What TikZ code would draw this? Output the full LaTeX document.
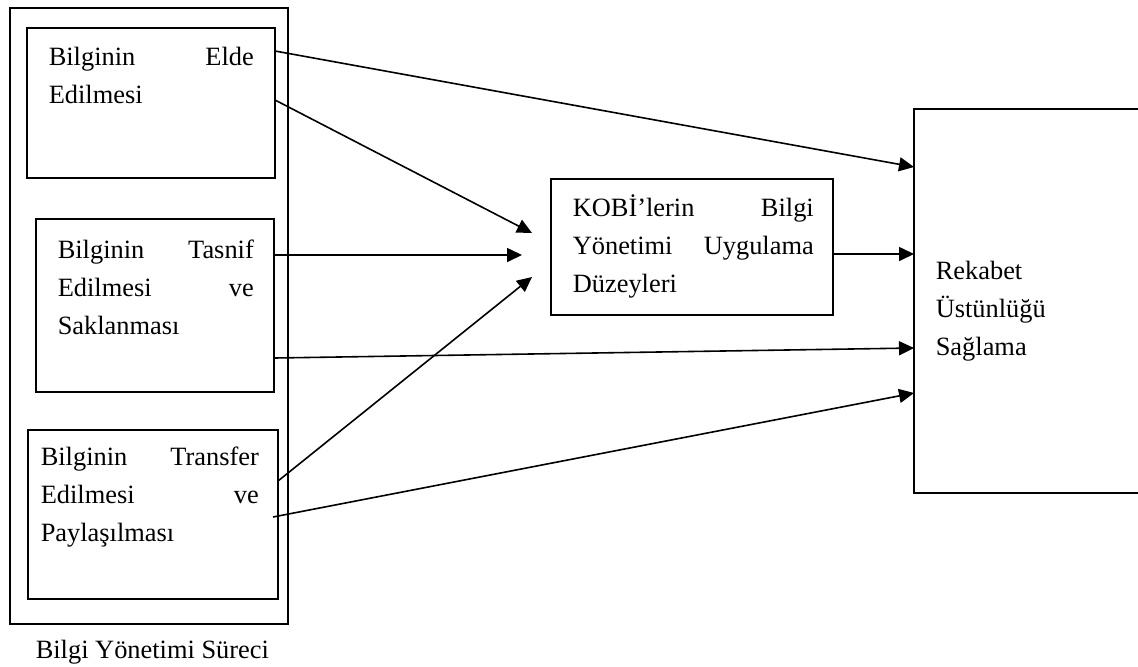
\documentclass[tikz,border=0pt]{standalone}
\usepackage{fontspec}
\setmainfont{Liberation Serif}
\usetikzlibrary{arrows.meta}

\begin{document}
\begin{tikzpicture}[
    x=0.5pt,
    y=-0.5pt,
    line width=0.8pt,
    box/.style={
      draw,
      rectangle,
      inner sep=0pt
    },
    txt/.style={
      anchor=base west,
      inner sep=0pt,
      align=left,
      font=\fontsize{13.2}{19}\selectfont
    },
    arr/.style={
      -{Triangle[length=7.5pt,width=7pt]}
    }
  ]
    \useasboundingbox (0, 0) rectangle (1138, 666);

    \node[box, minimum width=139pt, minimum height=308pt] (surec) at (149, 316) {};
    \node[box, minimum width=124pt, minimum height=75pt] (elde) at (151, 103) {};
    \node[box, minimum width=119pt, minimum height=86.5pt] (tasnif) at (155, 305.5) {};
    \node[box, minimum width=125pt, minimum height=84.5pt] (transfer) at (153, 514.5) {};
    \node[box, minimum width=141pt, minimum height=68pt] (kobi) at (692, 247) {};
    \node[box, minimum width=113pt, minimum height=192pt] (rekabet) at (1027, 301) {};

    \node[txt, text width=102.5pt] (elde_txt) at (48, 65) {Bilginin\hfill Elde\\Edilmesi};
    \node[txt, text width=98pt] (tasnif_txt) at (57, 258) {Bilginin\hfill Tasnif\\Edilmesi\hfill ve\\Saklanması};
    \node[txt, text width=109pt] (transfer_txt) at (40, 465) {Bilginin\hfill Transfer\\Edilmesi\hfill ve\\Paylaşılması};
    \node[txt, text width=120.5pt] (kobi_txt) at (572, 216) {KOBİ’lerin\hfill Bilgi\\Yönetimi\hfill Uygulama\\Düzeyleri};
    \node[txt] (rekabet_txt) at (935, 355) {Rekabet\\Üstünlüğü\\Sağlama};
    \node[txt] (surec_txt) at (35, 658) {Bilgi Yönetimi Süreci};

    \coordinate (elde_o1) at (275, 51);
    \coordinate (elde_o2) at (275, 100);
    \coordinate (tasnif_o1) at (274, 255);
    \coordinate (tasnif_o2) at (274, 358);
    \coordinate (transfer_o1) at (278, 481);
    \coordinate (transfer_o2) at (273, 517);
    \coordinate (kobi_i1) at (532, 233);
    \coordinate (kobi_i2) at (522, 255);
    \coordinate (kobi_i3) at (532, 277);
    \coordinate (kobi_o) at (833, 254);
    \coordinate (rek_i1) at (914, 167);
    \coordinate (rek_i2) at (914, 254);
    \coordinate (rek_i3) at (914, 348);
    \coordinate (rek_i4) at (914, 393);

    \draw[arr] (elde_o1) to (rek_i1);
    \draw[arr] (elde_o2) to (kobi_i1);
    \draw[arr] (tasnif_o1) to (kobi_i2);
    \draw[arr] (tasnif_o2) to (rek_i3);
    \draw[arr] (transfer_o1) to (kobi_i3);
    \draw[arr] (transfer_o2) to (rek_i4);
    \draw[arr] (kobi_o) to (rek_i2);

  \end{tikzpicture}
\end{document}
